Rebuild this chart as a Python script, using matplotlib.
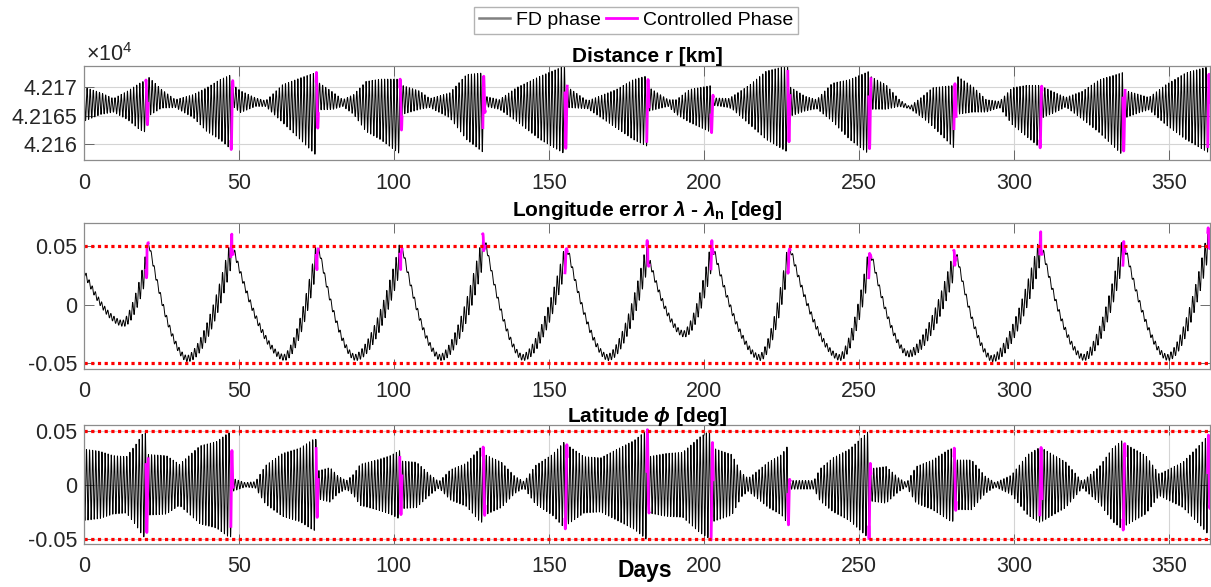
import numpy as np
import matplotlib.pyplot as plt
from matplotlib.lines import Line2D
from matplotlib.ticker import FuncFormatter

plt.rcParams['font.family'] = ['Liberation Sans', 'DejaVu Sans']
plt.rcParams['mathtext.fontset'] = 'custom'
plt.rcParams['mathtext.rm'] = 'Liberation Sans'
plt.rcParams['mathtext.it'] = 'Liberation Sans:italic:bold'
plt.rcParams['mathtext.bf'] = 'Liberation Sans:bold'

# station-keeping manoeuvre epochs [days] and end of the run
maneuver_days = [20.3, 47.7, 75.2, 102.2, 129.0, 155.5, 181.9, 202.6,
                 227.4, 253.5, 281.0, 308.7, 335.5, 362.9]
end_day = 363.3
ctrl_before, ctrl_after = 0.3, 0.4

# distance r: upper / lower envelope of the daily oscillation [km]
r_env_days = [0, 5.5, 9.5, 14, 18, 20.2,
              20.8, 25, 29.5, 35.3, 39.6, 43.8, 47.6,
              48.3, 50.4, 55.4, 58.6, 64, 69.7, 75.1,
              75.7, 80.4, 83.5, 87, 91, 95.6, 102.1,
              102.7, 108.4, 111.6, 118, 123.4, 128.9,
              129.5, 134, 139.5, 147.1, 155.4,
              156, 162.5, 171.8, 177.2, 181.8,
              182.4, 188.5, 191.1, 195.4, 202.5,
              203.1, 208, 209.2, 214.8, 220.1, 227.3,
              227.9, 232.7, 236.4, 241.4, 247, 253.4,
              254, 258.8, 263.1, 266.4, 270.6, 273.8, 280.9,
              281.5, 286.8, 291.1, 295.4, 299.5, 303.9, 308.6,
              309.2, 313.5, 316.8, 322.2, 327.6, 335.4,
              336, 340.5, 343.6, 349, 355.5, 362.8,
              363.3]
r_env_top = [42170.0, 42169.0, 42168.0, 42169.3, 42170.7, 42171.3,
             42171.8, 42169.6, 42167.8, 42168.7, 42169.9, 42171.3, 42172.2,
             42170.3, 42169.4, 42168.1, 42167.6, 42170.4, 42171.6, 42172.6,
             42170.8, 42169.1, 42167.8, 42168.7, 42171.0, 42171.4, 42171.4,
             42170.3, 42169.3, 42168.0, 42169.0, 42172.2, 42172.5,
             42168.4, 42167.8, 42169.9, 42171.9, 42173.8,
             42170.0, 42167.6, 42169.6, 42171.3, 42172.0,
             42169.9, 42167.8, 42167.8, 42169.6, 42170.3,
             42168.1, 42168.0, 42168.4, 42170.4, 42172.8, 42173.8,
             42170.0, 42168.4, 42167.8, 42170.7, 42171.3, 42172.8,
             42171.8, 42170.4, 42167.8, 42166.6, 42168.4, 42169.9, 42170.3,
             42172.0, 42170.1, 42167.8, 42167.5, 42169.9, 42170.3, 42170.3,
             42170.1, 42169.0, 42168.2, 42169.3, 42171.3, 42172.6,
             42169.4, 42168.7, 42168.2, 42170.4, 42172.5, 42173.6,
             42170.0]
r_env_bottom = [42164.0, 42165.2, 42165.6, 42164.3, 42162.5, 42162.0,
                42164.9, 42166.3, 42166.4, 42164.6, 42162.2, 42160.8, 42159.0,
                42166.5, 42165.5, 42166.6, 42166.6, 42163.8, 42160.8, 42157.9,
                42166.0, 42166.1, 42166.6, 42165.2, 42162.2, 42160.8, 42158.2,
                42165.2, 42166.1, 42166.4, 42164.6, 42160.8, 42158.5,
                42166.6, 42166.1, 42164.0, 42160.8, 42158.2,
                42166.4, 42166.2, 42162.8, 42160.8, 42159.6,
                42165.8, 42166.6, 42165.2, 42163.8, 42162.0,
                42166.8, 42166.4, 42166.1, 42163.4, 42160.8, 42158.5,
                42164.9, 42165.8, 42166.2, 42164.0, 42160.8, 42158.2,
                42166.1, 42166.1, 42166.6, 42166.2, 42164.6, 42163.1, 42159.2,
                42165.2, 42165.6, 42165.6, 42166.4, 42163.4, 42161.4, 42159.3,
                42164.6, 42165.6, 42166.5, 42164.3, 42162.0, 42157.9,
                42164.6, 42165.5, 42166.0, 42163.4, 42160.8, 42158.5,
                42166.0]

# longitude error: per drift cycle start value, parabola vertex, end value, tooth amplitude [deg]
lon_start = [0.028, 0.050, 0.045, 0.045, 0.045, 0.050, 0.045,
             0.035, 0.045, 0.045, 0.040, 0.040, 0.045, 0.045]
lon_vertex_day = [12.5, 33.3, 64.5, 87.5, 115.0, 141.6, 169.0,
                  193.5, 218.0, 243.8, 266.0, 293.0, 322.5, 349.6]
lon_vertex = [-0.016, -0.046, -0.045, -0.045, -0.045, -0.045, -0.045,
              -0.025, -0.045, -0.045, -0.042, -0.046, -0.045, -0.045]
lon_end = [0.036, 0.047, 0.043, 0.043, 0.050, 0.042, 0.044,
           0.044, 0.043, 0.040, 0.037, 0.049, 0.050, 0.055]
lon_amp_end = [0.012, 0.013, 0.013, 0.013, 0.014, 0.012, 0.013,
               0.013, 0.013, 0.013, 0.012, 0.013, 0.013, 0.013]
lon_amp_fall = 0.0025
lon_last = 0.05

# latitude: half-width of the daily oscillation envelope [deg]
lat_env_days = [0, 5.2, 9.4, 13.7, 16.9, 19.1, 20.2,
                20.6, 26.6, 30.8, 37.4, 42.8, 46.6, 47.6,
                48, 49, 52, 55.3, 58.6, 64, 69.7, 74, 75.1,
                75.5, 79.4, 82, 84.7, 87, 89.1, 94.5, 98.8, 102.1,
                102.5, 107.3, 111.6, 114.5, 118.2, 123.4, 127.7, 128.9,
                129.3, 134.7, 139, 142, 145.7, 151.1, 155.4,
                155.8, 161.4, 166.7, 172.1, 177.5, 181.8,
                182.2, 187.8, 193.2, 198.6, 202.5,
                202.9, 209, 212.2, 214.3, 220.8, 225.1, 227.3,
                227.7, 235.5, 237.5, 241.7, 247, 253.4,
                253.8, 258.8, 263, 265.4, 268.5, 273.8, 279.2, 280.9,
                281.3, 286.4, 290.8, 294, 299.2, 304.5, 308.6,
                309, 316.8, 322.1, 327.6, 331.9, 335.4,
                335.8, 342.6, 346.9, 354.6, 360, 362.8,
                363.3]
lat_env_amp = [0.033, 0.031, 0.027, 0.026, 0.038, 0.048, 0.048,
               0.028, 0.027, 0.019, 0.036, 0.040, 0.048, 0.048,
               0.006, 0.005, 0.002, 0.003, 0.018, 0.029, 0.034, 0.042, 0.042,
               0.013, 0.016, 0.008, 0.004, 0.010, 0.019, 0.023, 0.027, 0.032,
               0.022, 0.021, 0.0095, 0.003, 0.014, 0.020, 0.034, 0.035,
               0.028, 0.021, 0.008, 0.003, 0.018, 0.028, 0.041,
               0.037, 0.026, 0.025, 0.033, 0.041, 0.051,
               0.026, 0.029, 0.030, 0.044, 0.051,
               0.034, 0.028, 0.011, 0.006, 0.021, 0.028, 0.037,
               0.004, 0.004, 0.015, 0.025, 0.033, 0.050,
               0.015, 0.017, 0.006, 0.002, 0.017, 0.023, 0.033, 0.034,
               0.023, 0.023, 0.008, 0.002, 0.009, 0.028, 0.035,
               0.034, 0.021, 0.003, 0.017, 0.034, 0.042,
               0.038, 0.027, 0.010, 0.021, 0.037, 0.046,
               0.020]

lon_limit = 0.05
lat_limit = 0.05

# time axis, one orbit per day
t = np.arange(0, end_day, 1 / 48)
carrier = np.cos(2 * np.pi * t)

ctrl = np.zeros_like(t, dtype=bool)
for m in maneuver_days:
    ctrl |= (t >= m - ctrl_before) & (t <= m + ctrl_after)

# distance
top = np.interp(t, r_env_days, r_env_top)
bot = np.interp(t, r_env_days, r_env_bottom)
r = (top + bot) / 2 + (top - bot) / 2 * carrier

# latitude
lat = np.interp(t, lat_env_days, lat_env_amp) * np.cos(2 * np.pi * t + 1.3)

# longitude: two-sided drift arcs between manoeuvres with daily teeth
bounds = [0] + maneuver_days
lon_mean = np.full_like(t, lon_last)
lon_amp = np.full_like(t, lon_amp_fall)
p = 1.7
for k in range(len(lon_start)):
    a, b = bounds[k], bounds[k + 1]
    fs = a + (0.8 if k else 0.0)
    tv, vv = lon_vertex_day[k], lon_vertex[k]
    sel = (t >= a) & (t < b)
    tt = t[sel]
    u_fall = np.clip((tv - tt) / (tv - fs), 0, 1)
    u_rise = np.clip((tt - tv) / (b - tv), 0, 1)
    fall = vv + (lon_start[k] - vv) * u_fall ** p
    rise = vv + (lon_end[k] - vv) * u_rise ** p
    lon_mean[sel] = np.where(tt < tv, fall, rise)
    lon_amp[sel] = np.where(tt < tv, lon_amp_fall,
                            lon_amp_fall + (lon_amp_end[k] - lon_amp_fall) * u_rise)
lon = lon_mean + lon_amp * np.cos(2 * np.pi * t + 2.0)

fig = plt.figure(figsize=(12.11, 5.87), dpi=100)
left, width = 84 / 1211, 1126 / 1211
ax1 = fig.add_axes([left, 0.7274, width, 0.1601])
ax2 = fig.add_axes([left, 0.3714, width, 0.2487])
ax3 = fig.add_axes([left, 0.0733, width, 0.2027])

ctrl_wide = ctrl | np.roll(ctrl, 1) | np.roll(ctrl, -1)
for ax, y in ((ax1, r), (ax2, lon), (ax3, lat)):
    ax.plot(t, np.where(ctrl, np.nan, y), color='k', lw=0.7)
    ax.plot(t, np.where(ctrl_wide, y, np.nan), color='#ff00ff', lw=2)

for ax, lim in ((ax2, lon_limit), (ax3, lat_limit)):
    for s in (1, -1):
        ax.axhline(s * lim, color='red', lw=2.3, ls=(0, (1, 1.1)))

ax1.set_ylim(42157.2, 42173.7)
ax1.set_yticks([42160, 42165, 42170])
ax1.yaxis.set_major_formatter(FuncFormatter(lambda v, pos: '%g' % (v / 1e4)))
ax2.set_ylim(-0.0548, 0.0693)
ax2.set_yticks([-0.05, 0, 0.05])
ax3.set_ylim(-0.0546, 0.0553)
ax3.set_yticks([-0.05, 0, 0.05])
fmt = FuncFormatter(lambda v, pos: '%g' % v)
ax2.yaxis.set_major_formatter(fmt)
ax3.yaxis.set_major_formatter(fmt)

for ax in (ax1, ax2, ax3):
    ax.set_xlim(0, end_day)
    ax.set_xticks(np.arange(0, 351, 50))
    ax.tick_params(direction='in', length=7.5, width=0.6, color='#555555',
                   labelsize=15.5, labelcolor='#262626',
                   top=True, right=True)
    ax.tick_params(axis='x', pad=9)
    ax.tick_params(axis='y', pad=5)
    for sp in ax.spines.values():
        sp.set_color('#8c8c8c')
        sp.set_linewidth(0.9)
for ax in (ax1, ax3):
    ax.grid(True, color='#d4d4d4', lw=0.8)
    ax.set_axisbelow(True)

ax1.set_title('Distance r [km]', fontsize=15, fontweight='bold', pad=3)
ax2.set_title(r'Longitude error $\lambda$ - $\lambda_\mathbf{n}$ [deg]',
              fontsize=15, fontweight='bold', pad=5)
ax3.set_title(r'Latitude $\phi$ [deg]', fontsize=15, fontweight='bold', pad=2)
fig.text(86 / 1211, 1 - 61 / 587, r'$\times10^4$', fontsize=15.5,
         color='#262626', va='baseline', ha='left')
fig.text(645 / 1211, 1 - 571 / 587, 'Days', fontsize=16.5, fontweight='bold',
         ha='center', va='center')

handles = [Line2D([], [], color='#808080', lw=1.8),
           Line2D([], [], color='#ff00ff', lw=2)]
fig.legend(handles, ['FD phase', 'Controlled Phase'], loc='center',
           bbox_to_anchor=(636 / 1211, 1 - 20.5 / 587), ncol=2, fontsize=14,
           frameon=True, fancybox=False, edgecolor='#a0a0a0',
           handlelength=1.6, handletextpad=0.3, columnspacing=0.3,
           borderpad=0.25, borderaxespad=0)

fig.savefig('out.png', dpi=100)
